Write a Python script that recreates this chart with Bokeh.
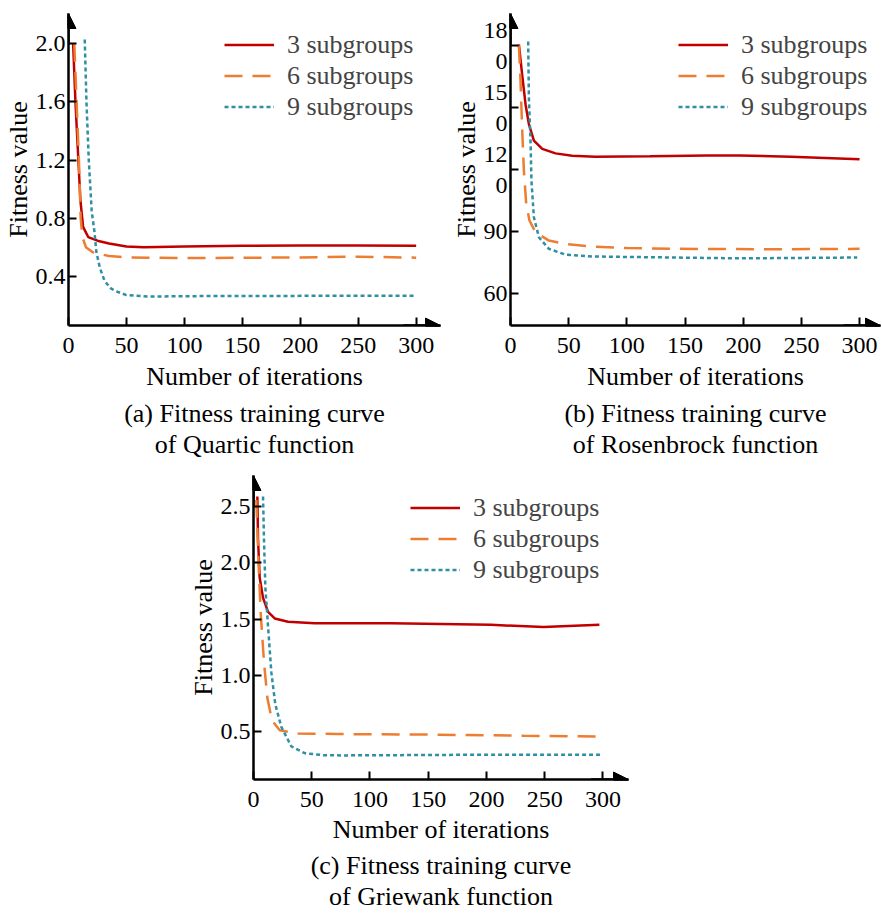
from bokeh.plotting import figure
from bokeh.models import Range1d, FixedTicker, Arrow, NormalHead, Legend, LegendItem, Title
from bokeh.layouts import column, row
from bokeh.embed import file_html
from bokeh.resources import INLINE

# ---------------- data ----------------
series_labels = ["3 subgroups", "6 subgroups", "9 subgroups"]

# (a) Quartic
q_x3 = [4, 6, 8.5, 10.3, 12.6, 17, 25, 35, 50, 65, 100, 150, 200, 250, 300]
q_y3 = [2.0, 1.6, 1.2, 0.92, 0.74, 0.67, 0.645, 0.625, 0.605, 0.60, 0.605, 0.61, 0.612, 0.612, 0.61]
q_x6 = [5, 7, 9, 10.5, 12, 15, 22, 35, 50, 100, 150, 200, 250, 300]
q_y6 = [2.0, 1.6, 1.2, 0.8, 0.67, 0.60, 0.56, 0.54, 0.53, 0.525, 0.527, 0.53, 0.535, 0.528]
q_x9 = [14, 15.5, 17.5, 20, 22.5, 24, 27, 31, 36, 40, 50, 70, 100, 200, 300]
q_y9 = [2.03, 1.6, 1.2, 0.85, 0.70, 0.57, 0.46, 0.37, 0.32, 0.30, 0.27, 0.26, 0.263, 0.265, 0.265]

# (b) Rosenbrock
r_x3 = [7.2, 10, 12.9, 15.8, 20.1, 27.3, 38.7, 53, 73, 120, 169, 197, 241, 300]
r_y3 = [180.6, 166, 151.6, 142, 134, 130, 127.8, 126.7, 126.2, 126.4, 126.8, 126.8, 126.2, 125]
r_x6 = [7.2, 8.6, 10, 11.5, 13.5, 16.3, 21.5, 33, 47.3, 70, 100, 140, 226, 300]
r_y6 = [180, 163, 140, 119.4, 103.5, 95.3, 89.6, 85.6, 84, 82.7, 82, 81.6, 81.4, 81.6]
r_x9 = [15.2, 15.8, 17.2, 18, 20.1, 24.4, 33, 47.3, 71, 112, 198, 298]
r_y9 = [182, 154.8, 134, 114.6, 96.9, 87.2, 81.6, 78.8, 77.9, 77.6, 77, 77.4]

# (c) Griewank
g_x3 = [3.3, 3.9, 5.3, 8.2, 12.5, 18.2, 29.6, 52.5, 118, 204, 249, 297]
g_y3 = [2.59, 2.21, 1.87, 1.69, 1.565, 1.507, 1.478, 1.464, 1.464, 1.45, 1.43, 1.45]
g_x6 = [2.4, 3.3, 4.4, 6.2, 9, 11.9, 15.9, 22.5, 38.2, 72.6, 150, 232, 300]
g_y6 = [2.56, 2.3, 1.98, 1.55, 1.12, 0.80, 0.60, 0.514, 0.485, 0.48, 0.475, 0.465, 0.458]
g_x9 = [8.2, 9, 10.2, 12.5, 15.3, 18.7, 23.9, 32.5, 44, 60, 75, 175, 298]
g_y9 = [2.59, 2.21, 1.78, 1.435, 1.03, 0.745, 0.543, 0.37, 0.31, 0.292, 0.29, 0.295, 0.295]

x_ticks = [0, 50, 100, 150, 200, 250, 300]
q_yticks = [0.4, 0.8, 1.2, 1.6, 2.0]
q_ylabels = ["0.4", "0.8", "1.2", "1.6", "2.0"]
r_yticks = [60, 90, 120, 150, 180]
r_ylabels = ["60", "90", "12\n0", "15\n0", "18\n0"]
g_yticks = [0.5, 1.0, 1.5, 2.0, 2.5]
g_ylabels = ["0.5", "1.0", "1.5", "2.0", "2.5"]

captions_a = ["(a) Fitness training curve", "of Quartic function"]
captions_b = ["(b) Fitness training curve", "of Rosenbrock function"]
captions_c = ["(c) Fitness training curve", "of Griewank function"]

COLORS = ["#C00000", "#ED7D31", "#2F8FA3"]
DASHES = ["solid", "18 10", "4 3"]
FONT = "Liberation Serif"


def make_panel(width, height, xr, yr, yticks, ylabels, series, captions,
               bl, bt, br, bb, legend_xy, standoffs):
    tick_so, lab_so, t1_so, t2_so = standoffs
    p = figure(width=width, height=height, output_backend="svg", toolbar_location=None,
               x_range=Range1d(*xr), y_range=Range1d(*yr),
               min_border_left=bl, min_border_top=bt, min_border_right=br, min_border_bottom=bb)
    p.outline_line_color = None
    p.grid.visible = False
    p.background_fill_color = None
    p.border_fill_color = "white"

    items = []
    for (xs, ys), col, dash, lab in zip(series, COLORS, DASHES, series_labels):
        r = p.line(xs, ys, line_color=col, line_width=2.5, line_dash=dash)
        items.append(LegendItem(label=lab, renderers=[r]))

    leg = Legend(items=items, location=legend_xy, glyph_width=50, glyph_height=31,
                 label_height=31, spacing=0, padding=0, margin=0, label_standoff=13,
                 label_text_font=FONT, label_text_font_size="26px",
                 border_line_color=None, background_fill_alpha=0)
    p.add_layout(leg, "center")

    for ax in (p.xaxis[0], p.yaxis[0]):
        ax.axis_line_width = 2.5
        ax.major_tick_line_width = 2
        ax.major_tick_in = 8
        ax.major_tick_out = 0
        ax.minor_tick_line_color = None
        ax.major_label_text_font = FONT
        ax.major_label_text_font_size = "24px"
        ax.major_label_text_color = "black"
        ax.axis_label_text_font = FONT
        ax.axis_label_text_font_size = "26px"
        ax.axis_label_text_font_style = "normal"
        ax.axis_label_text_color = "black"
        ax.axis_line_color = "black"
        ax.major_tick_line_color = "black"

    p.xaxis.ticker = FixedTicker(ticks=x_ticks)
    p.xaxis.major_label_standoff = tick_so
    p.xaxis.axis_label = "Number of iterations"
    p.xaxis.axis_label_standoff = lab_so

    p.yaxis.ticker = FixedTicker(ticks=yticks)
    p.yaxis.major_label_overrides = {t: l for t, l in zip(yticks, ylabels)}
    p.yaxis.major_label_standoff = 3
    p.yaxis.axis_label = "Fitness value"
    p.yaxis.axis_label_standoff = 0

    # arrows on axis ends
    yspan = yr[1] - yr[0]
    xspan = xr[1] - xr[0]
    p.add_layout(Arrow(end=NormalHead(size=15, fill_color="black", line_color="black"),
                       x_start=xr[0], y_start=yr[1] - 0.1 * yspan, x_end=xr[0], y_end=yr[1],
                       line_color="black", line_width=2.5))
    p.add_layout(Arrow(end=NormalHead(size=15, fill_color="black", line_color="black"),
                       x_start=xr[1] - 0.1 * xspan, y_start=yr[0], x_end=xr[1], y_end=yr[0],
                       line_color="black", line_width=2.5))

    for c, so in zip(captions, (t1_so, t2_so)):
        p.add_layout(Title(text=c, align="center", text_font=FONT, text_font_size="26px",
                           text_font_style="normal", text_color="black", standoff=so),
                     "below")
    return p


pa = make_panel(441, 467, (0, 321), (0.061, 2.209), q_yticks, q_ylabels,
                [(q_x3, q_y3), (q_x6, q_y6), (q_x9, q_y9)], captions_a,
                67, 13, 1, 142, (156, 203), (12, 6, 6, -5))
pb = make_panel(441, 467, (0, 318), (44.5, 195.5), r_yticks, r_ylabels,
                [(r_x3, r_y3), (r_x6, r_y6), (r_x9, r_y9)], captions_b,
                69, 13, 2, 142, (168, 203), (12, 6, 6, -5))
pc = make_panel(638, 452, (0, 322), (0.076, 2.777), g_yticks, g_ylabels,
                [(g_x3, g_y3), (g_x6, g_y6), (g_x9, g_y9)], captions_c,
                253, 8, 10, 140, (157, 194), (12, 5, 5, -5))

layout = column(row(pa, pb), pc)
open("out.html", "w").write(file_html(layout, INLINE))
